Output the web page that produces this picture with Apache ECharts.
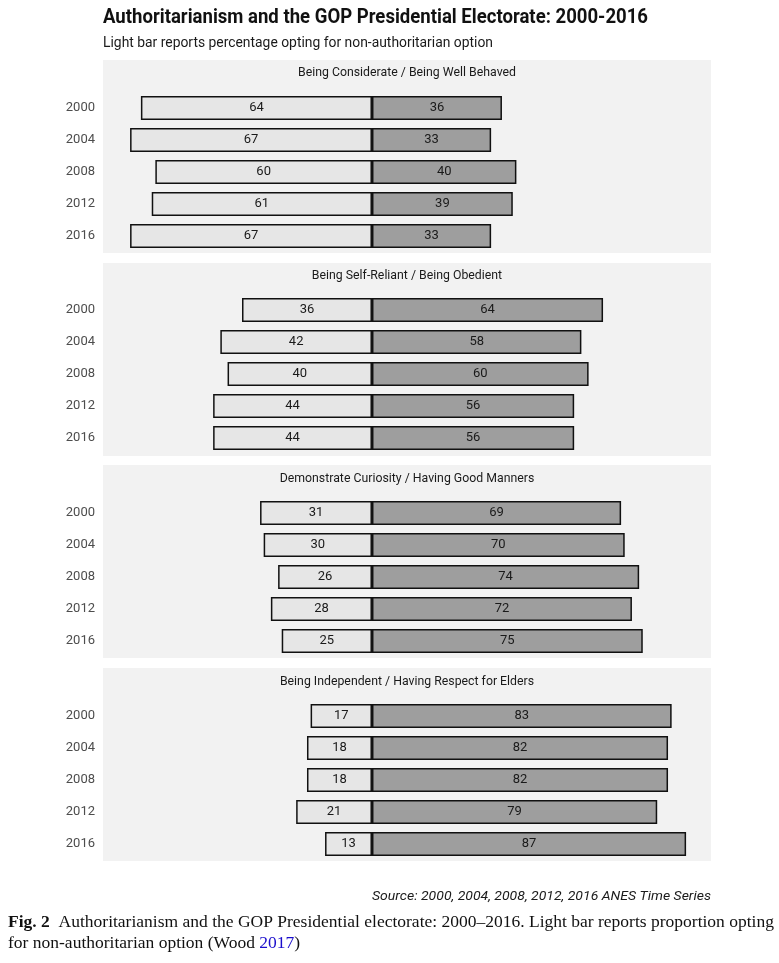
<!DOCTYPE html>
<html>
<head>
<meta charset="utf-8">
<script src="https://cdn.jsdelivr.net/npm/echarts@6/dist/echarts.min.js"></script>
<style>html,body{margin:0;padding:0;background:#fff}#c{width:779px;height:963px}</style>
</head>
<body>
<div id="c"></div>
<script>
const years = ['2000', '2004', '2008', '2012', '2016'];
const panelTitles = [
  'Being Considerate / Being Well Behaved',
  'Being Self-Reliant / Being Obedient',
  'Demonstrate Curiosity / Having Good Manners',
  'Being Independent / Having Respect for Elders'
];
const nonAuthoritarian = [
  [64, 67, 60, 61, 67],
  [36, 42, 40, 44, 44],
  [31, 30, 26, 28, 25],
  [17, 18, 18, 21, 13]
];
const authoritarian = [
  [36, 33, 40, 39, 33],
  [64, 58, 60, 56, 56],
  [69, 70, 74, 72, 75],
  [83, 82, 82, 79, 87]
];
const titleText = 'Authoritarianism and the GOP Presidential Electorate: 2000-2016';
const subtitleText = 'Light bar reports percentage opting for non-authoritarian option';
const sourceText = 'Source: 2000, 2004, 2008, 2012, 2016 ANES Time Series';

const measureCtx = document.createElement('canvas').getContext('2d');
function fit(text, font, width) {
  measureCtx.font = font;
  return width / measureCtx.measureText(text).width;
}

const panelTop = [60, 263, 465, 668];
const gridTop = [92, 294, 497, 700];
const stripY = [73, 276, 479, 682];
const L = 103, W = 608;

const grids = [], xAxes = [], yAxes = [], series = [], graphics = [];

const tFont = 'bold 21px Roboto';
graphics.push({type: 'text', x: L, y: 18, scaleX: fit(titleText, tFont, 545),
  style: {text: titleText, font: tFont, fill: '#111', textAlign: 'left', textVerticalAlign: 'middle'}});
const sFont = '15px Roboto';
graphics.push({type: 'text', x: L, y: 43, scaleX: fit(subtitleText, sFont, 390),
  style: {text: subtitleText, font: sFont, fill: '#1a1a1a', textAlign: 'left', textVerticalAlign: 'middle'}});
const srcFont = 'italic 13.5px Roboto';
graphics.push({type: 'text', x: L + W, y: 897, scaleX: fit(sourceText, srcFont, 339),
  style: {text: sourceText, font: srcFont, fill: '#1a1a1a', textAlign: 'right', textVerticalAlign: 'middle'}});

const stripFont = '13px Roboto';
const stripScale = fit(panelTitles[0], stripFont, 218);

panelTitles.forEach((pt, i) => {
  graphics.push({type: 'rect', z: -10, shape: {x: L, y: panelTop[i], width: W, height: 193},
    style: {fill: '#f2f2f2'}, silent: true});
  graphics.push({type: 'text', x: L + W / 2, y: stripY[i], scaleX: stripScale,
    style: {text: pt, font: stripFont, fill: '#1a1a1a', textAlign: 'center', textVerticalAlign: 'middle'}});
  grids.push({left: L, width: W, top: gridTop[i], height: 160});
  xAxes.push({type: 'value', gridIndex: i, min: -74.5, max: 93.9, show: false, splitLine: {show: false}});
  yAxes.push({type: 'category', gridIndex: i, data: years, inverse: true,
    axisLine: {show: false}, axisTick: {show: false}, splitLine: {show: false},
    axisLabel: {color: '#4d4d4d', fontSize: 13, fontFamily: 'Roboto', margin: 8}});
  const common = {type: 'bar', xAxisIndex: i, yAxisIndex: i, stack: 'p' + i, barWidth: 24,
    label: {show: true, position: 'inside', color: '#1a1a1a', fontSize: 13, fontFamily: 'Roboto',
      formatter: p => Math.abs(p.value)}};
  series.push(Object.assign({}, common, {
    data: nonAuthoritarian[i].map(v => -v),
    itemStyle: {color: '#e6e6e6', borderColor: '#111', borderWidth: 1.5}
  }));
  series.push(Object.assign({}, common, {
    data: authoritarian[i],
    itemStyle: {color: '#9e9e9e', borderColor: '#111', borderWidth: 1.5}
  }));
});

const capFont = '17.5px "Liberation Serif"';
graphics.push({type: 'text', x: 8, y: 922,
  style: {
    text: '{b|Fig. 2}  Authoritarianism and the GOP Presidential electorate: 2000\u20132016. Light bar reports proportion opting',
    font: capFont, fill: '#111', textAlign: 'left', textVerticalAlign: 'middle',
    rich: {b: {fontWeight: 'bold', fontFamily: 'Liberation Serif', fontSize: 17.5, fill: '#111'}}
  }});
graphics.push({type: 'text', x: 8, y: 943,
  style: {
    text: 'for non-authoritarian option (Wood {a|2017})',
    font: capFont, fill: '#111', textAlign: 'left', textVerticalAlign: 'middle',
    rich: {a: {fontFamily: 'Liberation Serif', fontSize: 17.5, fill: '#1a0dcc'}}
  }});

const chart = echarts.init(document.getElementById('c'), null, {renderer: 'canvas'});
chart.setOption({
  animation: false,
  backgroundColor: '#fff',
  grid: grids, xAxis: xAxes, yAxis: yAxes, series: series, graphic: graphics
});
</script>
</body>
</html>
